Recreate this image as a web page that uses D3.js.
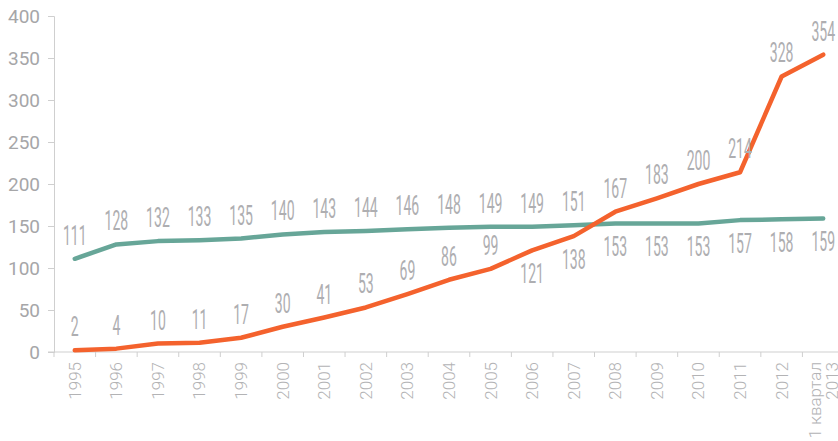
<!DOCTYPE html>
<html>
<head>
<meta charset="utf-8">
<script src="https://cdn.jsdelivr.net/npm/d3@7"></script>
<style>
  html, body { margin: 0; padding: 0; background: #fff; overflow: hidden; }
  svg { display: block; }
</style>
</head>
<body>
<svg id="chart" width="838" height="441"></svg>
<script>
const categories = ["1995","1996","1997","1998","1999","2000","2001","2002","2003","2004","2005","2006","2007","2008","2009","2010","2011","2012","1 квартал\n2013"];
const orangeValues = [2,4,10,11,17,30,41,53,69,86,99,121,138,167,183,200,214,328,354];
const tealValues = [111,128,132,133,135,140,143,144,146,148,149,149,151,153,153,153,157,158,159];
const orangeLabelSide = ["a","a","a","a","a","a","a","a","a","a","a","b","b","a","a","a","a","a","a"];
const tealLabelSide = ["a","a","a","a","a","a","a","a","a","a","a","a","a","b","b","b","b","b","b"];
const yTicks = [0,50,100,150,200,250,300,350,400];

(function() {
const svg = d3.select("#chart");
const mLeft = 54, mRight = 844, mTop = 16, mBottom = 352;

const x = d3.scaleBand().domain(categories).range([mLeft, mRight]).padding(0);
const y = d3.scaleLinear().domain([0, 400]).range([mBottom, mTop]);
const cx = d => x(d) + x.bandwidth() / 2;

const axisColor = "#cfcfcf";
const textColor = "#aeaeb1";

// Y axis
const yAxis = svg.append("g").attr("transform", `translate(${mLeft},0)`)
  .call(d3.axisLeft(y).tickValues(yTicks).tickSize(6).tickPadding(8));
yAxis.select(".domain").attr("stroke", axisColor).attr("stroke-width", 1);
yAxis.selectAll(".tick line").attr("stroke", axisColor);
yAxis.selectAll(".tick text").attr("fill", "#a6a6a8")
  .style("font-family", "Roboto, sans-serif").style("font-size", "19px").style("font-weight", 400);

// X axis (ticks at band boundaries)
const xg = svg.append("g");
xg.append("line").attr("x1", mLeft - 6).attr("x2", 838).attr("y1", mBottom).attr("y2", mBottom)
  .attr("stroke", axisColor).attr("stroke-width", 1);
const bounds = categories.map(c => x(c)).concat([x(categories[categories.length-1]) + x.bandwidth()]);
xg.selectAll("line.t").data(bounds).enter().append("line").attr("class", "t")
  .attr("x1", d => d).attr("x2", d => d).attr("y1", mBottom).attr("y2", mBottom + 5)
  .attr("stroke", axisColor);
const xl = xg.selectAll("text.xl").data(categories).enter().append("text").attr("class", "xl")
  .attr("transform", d => `translate(${cx(d)},${mBottom + 10}) rotate(-90)`)
  .attr("text-anchor", "end")
  .attr("fill", "#b3b3b5")
  .style("font-family", "Roboto, sans-serif").style("font-size", "17px").style("font-weight", 300);
xl.each(function(d) {
  const lines = d.split("\n");
  const t = d3.select(this);
  const n = lines.length;
  lines.forEach((ln, i) => {
    t.append("tspan").attr("x", 0)
      .attr("dy", i === 0 ? (0.35 - (n - 1) * 0.5 * 1.0) + "em" : "1.0em")
      .text(ln);
  });
});

// Lines
const line = vals => d3.line().x((v, i) => cx(categories[i])).y(v => y(v))(vals);
svg.append("path").attr("d", line(tealValues)).attr("fill", "none")
  .attr("stroke", "#67a698").attr("stroke-width", 4.5).attr("stroke-linecap", "round").attr("stroke-linejoin", "round");
svg.append("path").attr("d", line(orangeValues)).attr("fill", "none")
  .attr("stroke", "#f4622d").attr("stroke-width", 4.5).attr("stroke-linecap", "round").attr("stroke-linejoin", "round");

// Labels
function labels(vals, sides) {
  svg.append("g").selectAll("text").data(vals).enter().append("text")
    .attr("transform", (v, i) => {
      const yy = sides[i] === "a" ? y(v) - 14 : y(v) + 33;
      return `translate(${cx(categories[i])},${yy}) scale(0.52,1)`;
    })
    .attr("text-anchor", "middle")
    .attr("fill", textColor)
    .style("font-family", "Roboto, sans-serif").style("font-size", "27px").style("font-weight", 400)
    .text(v => v);
}
labels(tealValues, tealLabelSide);
labels(orangeValues, orangeLabelSide);
})();
</script>
</body>
</html>
